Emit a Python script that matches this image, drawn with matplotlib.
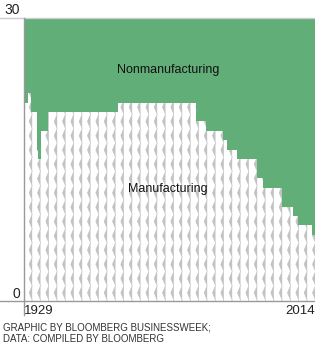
import numpy as np
import matplotlib
matplotlib.use("Agg")
import matplotlib.pyplot as plt
import matplotlib.hatch as mhatch
from matplotlib.path import Path

# ---------------- data ----------------
years = [1929, 1930.3, 1931, 1932.7, 1933.2, 1934.0, 1936.0, 1956.5, 1979.1,
         1982.2, 1987.1, 1988.3, 1991.2, 1997.0, 1998.9, 2004.3, 2007.6,
         2009.1, 2013.0, 2014]
manufacturing = [21, 22, 20, 16, 15, 18, 20, 21, 19,
                 18, 17, 16, 15, 13, 12, 10, 9,
                 8, 7, 7]
total = 30
x_ticks = [1929, 2014]
x_tick_labels = ["1929", "2014"]
y_ticks = [0, 30]
y_tick_labels = ["0", "30"]
area_labels = ["Nonmanufacturing", "Manufacturing"]
footer = "GRAPHIC BY BLOOMBERG BUSINESSWEEK;\nDATA: COMPILED BY BLOOMBERG"

# ---------------- custom zigzag hatch (replaces '|') ----------------
class ZigZagHatch(mhatch.HatchPatternBase):
    ncols = 12
    nper = 7
    amp = 0.03

    def __init__(self, hatch, density):
        self.active = '|' in hatch
        self.nseg = 2 * self.nper
        self.num_vertices = self.ncols * (self.nseg + 1) if self.active else 0

    def set_vertices_and_codes(self, vertices, codes):
        k = np.arange(self.nseg + 1)
        ys = k / self.nseg
        offs = self.amp * (k % 2 == 0)
        n = self.nseg + 1
        for i in range(self.ncols):
            x0 = (i + 0.5) / self.ncols
            vertices[i * n:(i + 1) * n, 0] = x0 + offs
            vertices[i * n:(i + 1) * n, 1] = ys
            codes[i * n] = Path.MOVETO
            codes[i * n + 1:(i + 1) * n] = Path.LINETO

mhatch._hatch_types[:] = [ZigZagHatch if t is mhatch.VerticalHatch else t
                          for t in mhatch._hatch_types]

# ---------------- figure ----------------
plt.rcParams['font.family'] = ['Liberation Sans', 'DejaVu Sans']
plt.rcParams['hatch.linewidth'] = 0.45

W, H = 315, 357
fig = plt.figure(figsize=(W / 100, H / 100), dpi=100)
left, right, top, bottom = 24, 315, 17.5, 301
ax = fig.add_axes([left / W, 1 - bottom / H, (right - left) / W, (bottom - top) / H])

green = '#62ae79'
ax.fill_between(years, 0, manufacturing, step='post', facecolor='white',
                edgecolor='#c2c2c2', hatch='|', linewidth=0)
ax.fill_between(years, manufacturing, total, step='post', facecolor=green,
                edgecolor=green, linewidth=0)

ax.set_xlim(x_ticks[0], x_ticks[-1])
ax.set_ylim(0, total)
for s in ax.spines.values():
    s.set_visible(False)

# reference lines
ext = left / (right - left)
ax.axhline(total, xmin=-ext, xmax=1, color='#cccccc', lw=1, clip_on=False)
ax.axhline(0, xmin=-ext, xmax=1, color='#999999', lw=1, clip_on=False)
ax.axvline(x_ticks[0], ymin=-14 / (bottom - top), ymax=1, color='#999999',
           lw=1, clip_on=False)

# ticks
ax.set_yticks(y_ticks)
ax.set_yticklabels(y_tick_labels, fontsize=10, color='#222222')
for lab in ax.get_yticklabels():
    lab.set_va('bottom')
ax.tick_params(axis='y', length=0, pad=3)
ax.set_xticks(x_ticks)
ax.set_xticklabels(x_tick_labels, fontsize=9.5, color='#222222')
xl = ax.get_xticklabels()
xl[0].set_ha('left')
xl[1].set_ha('right')
ax.tick_params(axis='x', length=0, pad=3)

# area labels
ax.text(1971, 24.4, area_labels[0], ha='center', va='center', fontsize=9,
        color='#111111')
ax.text(1971, 11.8, area_labels[1], ha='center', va='center', fontsize=9,
        color='#111111')

fig.text(3 / W, 1 - 333 / H, footer, ha='left', va='center', fontsize=7,
         family=['Liberation Sans Narrow', 'Liberation Sans'],
         color='#333333', linespacing=1.15)

fig.savefig('out.png', dpi=100)
